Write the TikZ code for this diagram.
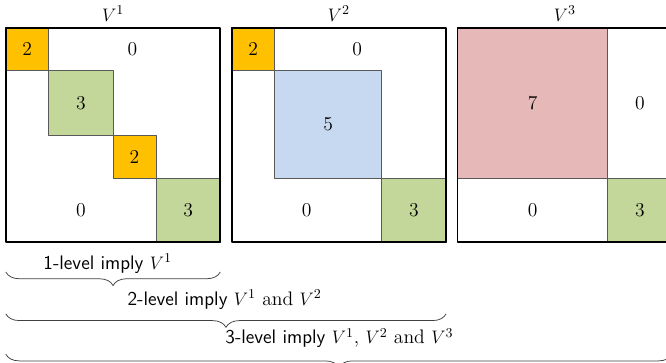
\documentclass[tikz,border=0pt]{standalone}
\usetikzlibrary{decorations.pathreplacing}
\definecolor{blkorange}{HTML}{FFC000}
\definecolor{blkgreen}{HTML}{C4D79B}
\definecolor{blkblue}{HTML}{C6D9F0}
\definecolor{blkred}{HTML}{E6B8B7}
\begin{document}
\begin{tikzpicture}[x=0.5cm,y=0.5cm,line join=round,font=\fontsize{13}{15.6}\selectfont,
	blk/.style={draw=black!65,line width=0.5pt},
	frame/.style={draw,line width=1.3pt},
	lvlbrace/.style={decorate,decoration={brace,mirror,amplitude=9pt},draw=black!75,line width=0.5pt}]
	\useasboundingbox (-0.27,-5.58) rectangle (30.78,11.30);
	% V^1
	\filldraw[blk,fill=blkorange] (0,8) rectangle (2,10);
	\filldraw[blk,fill=blkgreen] (2,5) rectangle (5,8);
	\filldraw[blk,fill=blkorange] (5,3) rectangle (7,5);
	\filldraw[blk,fill=blkgreen] (7,0) rectangle (10,3);
	\draw[frame] (0,0) rectangle (10,10);
	\node (m1t) at (5,10.67) {$V^1$};
	\node (m1a) at (1,9) {2};
	\node (m1b) at (3.5,6.5) {3};
	\node (m1c) at (6,4) {2};
	\node (m1d) at (8.5,1.5) {3};
	\node (m1u) at (5.9,9) {0};
	\node (m1l) at (3.5,1.5) {0};
	% V^2
	\begin{scope}[shift={(10.53,0)}]
		\filldraw[blk,fill=blkorange] (0,8) rectangle (2,10);
		\filldraw[blk,fill=blkblue] (2,3) rectangle (7,8);
		\filldraw[blk,fill=blkgreen] (7,0) rectangle (10,3);
		\draw[frame] (0,0) rectangle (10,10);
		\node (m2t) at (5,10.67) {$V^2$};
		\node (m2a) at (1,9) {2};
		\node (m2b) at (4.5,5.5) {5};
		\node (m2c) at (8.5,1.5) {3};
		\node (m2u) at (5.85,9) {0};
		\node (m2l) at (3.5,1.5) {0};
	\end{scope}
	% V^3
	\begin{scope}[shift={(21.06,0)}]
		\filldraw[blk,fill=blkred] (0,3) rectangle (7,10);
		\filldraw[blk,fill=blkgreen] (7,0) rectangle (10,3);
		\draw[frame] (0,0) rectangle (10,10);
		\node (m3t) at (5,10.67) {$V^3$};
		\node (m3a) at (3.5,6.5) {7};
		\node (m3b) at (8.5,1.5) {3};
		\node (m3u) at (8.5,6.5) {0};
		\node (m3l) at (3.5,1.5) {0};
	\end{scope}
	% levels
	\coordinate (b1l) at (0,-1.38);
	\coordinate (b1r) at (10,-1.38);
	\coordinate (b2l) at (0,-3.33);
	\coordinate (b2r) at (20.53,-3.33);
	\coordinate (b3l) at (0,-5.21);
	\coordinate (b3r) at (31.06,-5.21);
	\draw[lvlbrace] (b1l) -- (b1r);
	\draw[lvlbrace] (b2l) -- (b2r);
	\draw[lvlbrace] (b3l) -- (b3r);
	\node (lv1) at (4.75,-1.0) {\textsf{1-level imply} $V^1$};
	\node (lv2) at (10.2,-2.68) {\textsf{2-level imply} $V^1$ and $V^2$};
	\node (lv3) at (15.55,-4.47) {\textsf{3-level imply} $V^1$, $V^2$ and $V^3$};
\end{tikzpicture}
\end{document}
